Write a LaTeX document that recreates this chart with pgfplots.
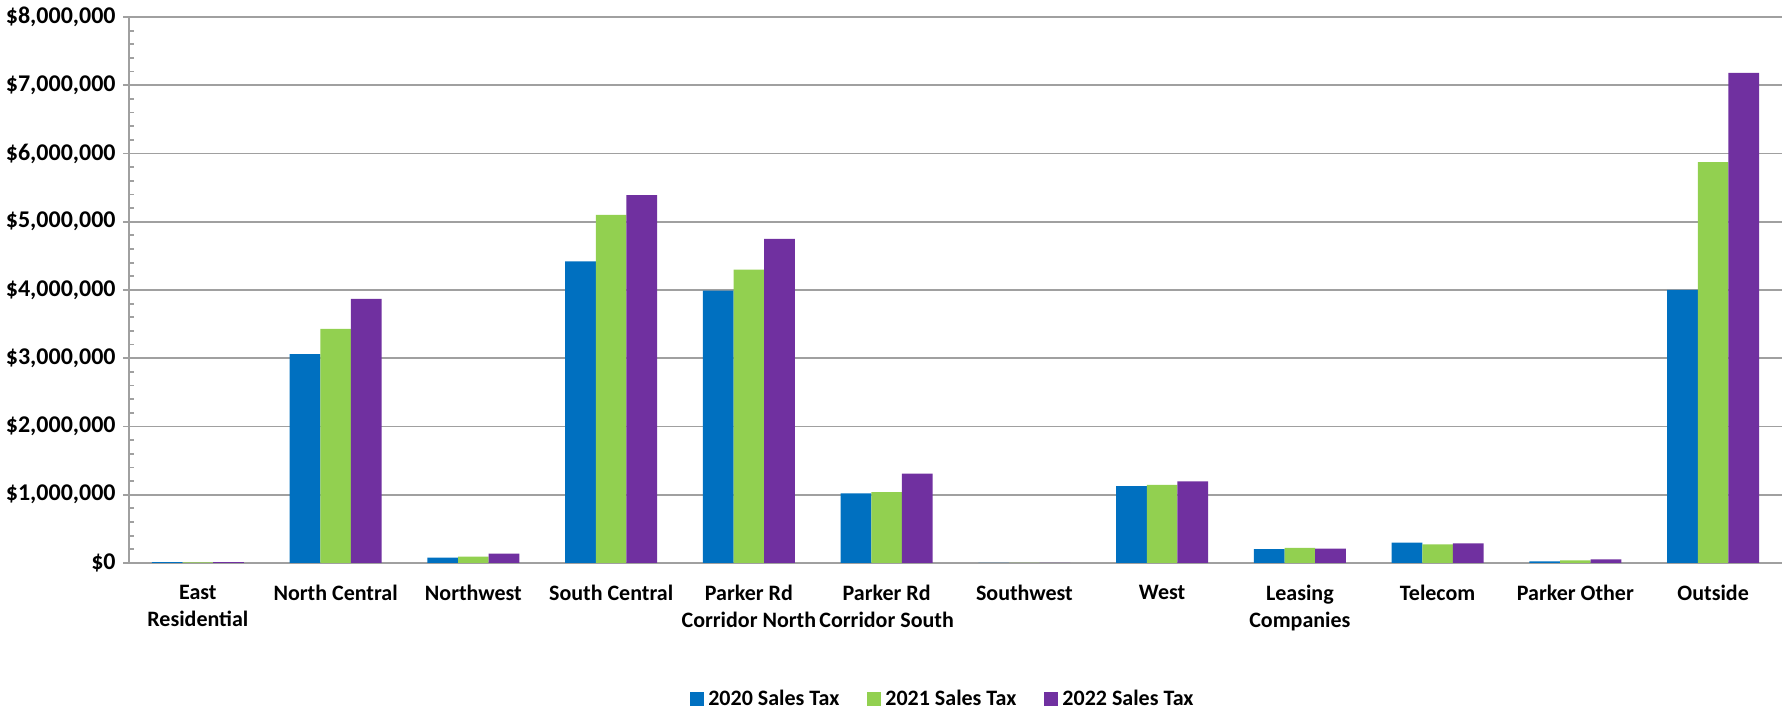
\documentclass[border=0pt]{standalone}
\usepackage{pgfplots}
\pgfplotsset{compat=1.18}
\usepackage{fontspec}
\setmainfont{Carlito}
\definecolor{cA}{HTML}{0070C0}
\definecolor{cB}{HTML}{92D050}
\definecolor{cC}{HTML}{7030A0}
\definecolor{gridc}{HTML}{A0A0A0}
\begin{document}
\begin{tikzpicture}
\begin{axis}[name=ax,
  scale only axis, width=826.5pt, height=273pt,
  ybar=0pt, bar width=15.3pt,
  xmin=-0.5, xmax=11.5, ymin=0, ymax=8000000,
  axis x line*=bottom, axis y line*=left,
  axis line style={gridc, line width=0.9pt},
  xtick={0,...,11},
  xticklabels={{East\\Residential},{North Central},{Northwest},{South Central},{Parker Rd\\Corridor North},{Parker Rd\\Corridor South},{Southwest},{West},{Leasing\\Companies},{Telecom},{Parker Other},{Outside}},
  x tick label style={align=center, font=\fontsize{11}{13.5}\selectfont\bfseries, yshift=-4.5pt},
  x tick style={draw=none},
  extra x ticks={0.5,1.5,...,10.5},
  extra x tick labels={},
  extra x tick style={major tick length=4.5pt, tick align=outside, tick style={draw=gridc, line width=0.9pt}, xmajorgrids=false},
  ytick={0,1000000,...,8000000},
  yticklabels={{\$0},{\$1,000,000},{\$2,000,000},{\$3,000,000},{\$4,000,000},{\$5,000,000},{\$6,000,000},{\$7,000,000},{\$8,000,000}},
  scaled y ticks=false,
  y tick label style={font=\fontsize{12}{13}\selectfont\bfseries, inner sep=1pt, xshift=-2.5pt},
  minor y tick num=4,
  tick align=outside,
  major tick length=3pt, minor tick length=2.5pt,
  y tick style={draw=gridc, line width=0.9pt},
  minor y tick style={xshift=2.5pt},
  ymajorgrids, major grid style={gridc, line width=0.9pt},
  legend columns=3,
  legend style={at={(0.493,-0.249)}, anchor=center, draw=none, inner sep=1pt, font=\fontsize{11}{13}\selectfont\bfseries, /tikz/every even column/.append style={column sep=12pt}},
  legend image code/.code={\fill[#1] (0pt,-3.5pt) rectangle (7pt,3.5pt);},
]
\addplot[fill=cA, draw=none] coordinates {(0,12000) (1,3060000) (2,78000) (3,4420000) (4,3990000) (5,1020000) (6,0) (7,1128000) (8,205000) (9,297000) (10,24000) (11,4000000)};
\addplot[fill=cB, draw=none] coordinates {(0,10000) (1,3430000) (2,92000) (3,5100000) (4,4300000) (5,1040000) (6,0) (7,1143000) (8,220000) (9,273000) (10,38000) (11,5875000)};
\addplot[fill=cC, draw=none] coordinates {(0,11000) (1,3870000) (2,136000) (3,5390000) (4,4750000) (5,1310000) (6,0) (7,1196000) (8,210000) (9,287000) (10,53000) (11,7180000)};
\legend{2020 Sales Tax, 2021 Sales Tax, 2022 Sales Tax}
\end{axis}
\pgfresetboundingbox
\path[use as bounding box] ([xshift=-64.5pt,yshift=-74pt]ax.south west) rectangle ([xshift=3pt,yshift=8.5pt]ax.north east);
\end{tikzpicture}
\end{document}
